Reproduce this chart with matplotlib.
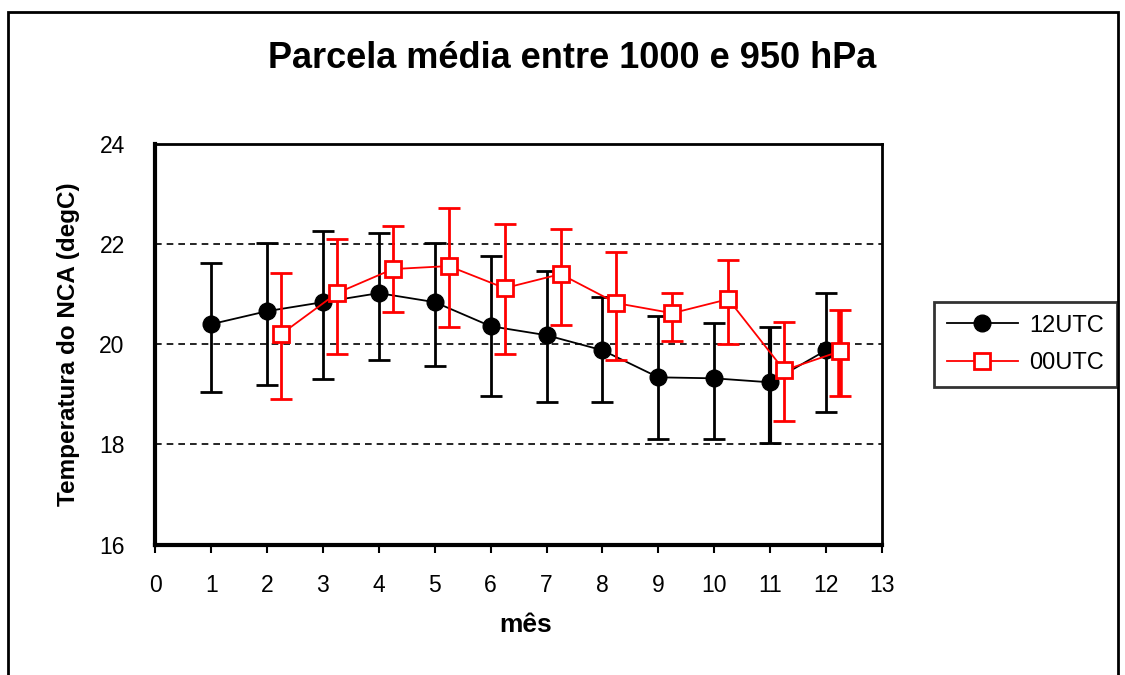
import matplotlib
matplotlib.use("Agg")
import matplotlib.pyplot as plt
import matplotlib.patches as patches
import numpy as np

plt.rcParams['font.family'] = ['Liberation Sans', 'DejaVu Sans']

# medias mensais e limites das barras de erro
meses = np.arange(1, 13)
t12 = [20.40, 20.66, 20.84, 21.02, 20.84, 20.36, 20.18, 19.88, 19.34, 19.32, 19.24, 19.88]
t12_sup = [21.62, 22.02, 22.26, 22.22, 22.02, 21.76, 21.46, 20.94, 20.56, 20.42, 20.34, 21.02]
t12_inf = [19.04, 19.18, 19.30, 19.68, 19.56, 18.96, 18.84, 18.84, 18.10, 18.10, 18.02, 18.64]

meses00 = np.arange(2, 13)
t00 = [20.20, 21.02, 21.50, 21.56, 21.12, 21.40, 20.82, 20.62, 20.90, 19.48, 19.86]
t00_sup = [21.42, 22.10, 22.36, 22.72, 22.40, 22.30, 21.84, 21.02, 21.68, 20.44, 20.68]
t00_inf = [18.90, 19.80, 20.64, 20.34, 19.80, 20.38, 19.68, 20.06, 20.00, 18.46, 18.96]

desloc = 0.25  # 00UTC deslocado para nao sobrepor

fig = plt.figure(figsize=(11.25, 6.75), dpi=100)
ax = fig.add_axes([0.138, 0.193, 0.646, 0.594])

t12 = np.array(t12)
t00 = np.array(t00)
err12 = [t12 - np.array(t12_inf), np.array(t12_sup) - t12]
err00 = [t00 - np.array(t00_inf), np.array(t00_sup) - t00]

eb12 = ax.errorbar(meses, t12, yerr=err12, fmt='none', ecolor='black',
                   elinewidth=2, capsize=8, capthick=2, zorder=3)
ax.plot(meses, t12, '-o', color='black', lw=1.3, ms=12, label='12UTC', zorder=4)

x00 = meses00 + desloc
eb00 = ax.errorbar(x00, t00, yerr=err00, fmt='none', ecolor='red',
                   elinewidth=2, capsize=8, capthick=2, zorder=5)
ax.plot(x00, t00, '-s', color='red', lw=1.3, ms=11, mfc='white', mew=2,
        label='00UTC', zorder=6)

# ultimas barras mais grossas
lw12 = [2] * 12
lw12[10] = 3
eb12[2][0].set_linewidths(lw12)
lw00 = [2] * 11
lw00[10] = 4
eb00[2][0].set_linewidths(lw00)

ax.set_xlim(0, 13)
ax.set_ylim(16, 24)
ax.set_xticks(range(0, 14))
ax.set_yticks([16, 18, 20, 22, 24])
for y in [18, 20, 22]:
    ax.axhline(y, color='black', ls=(0, (4, 3)), lw=1.2, zorder=1)

ax.tick_params(axis='both', labelsize=16.5, direction='out', length=6, width=1.5)
ax.tick_params(axis='x', pad=15)
ax.tick_params(axis='y', pad=22, length=0)
for s in ['left', 'bottom']:
    ax.spines[s].set_linewidth(3)
for s in ['top', 'right']:
    ax.spines[s].set_linewidth(2)

ax.set_xlabel('mês', fontsize=19, fontweight='bold')
ax.xaxis.label.set_va('center')
ax.xaxis.set_label_coords(0.509, -0.2)
ax.set_ylabel('Temperatura do NCA (degC)', fontsize=17.5, fontweight='bold')
ax.yaxis.label.set_va('center')
ax.yaxis.set_label_coords(-0.119, 0.5)
fig.text(0.509, 0.914, 'Parcela média entre 1000 e 950 hPa', ha='center', va='center',
         fontsize=26, fontweight='bold')

leg = fig.legend(loc='center left', bbox_to_anchor=(0.83, 0.49), fontsize=17,
                 frameon=True, fancybox=False, edgecolor='black', handlelength=3.0,
                 borderpad=0.55, labelspacing=0.65, handletextpad=0.5, borderaxespad=0)
leg.get_frame().set_linewidth(2)

# moldura externa
fig.patches.append(patches.Rectangle((0.007, -0.01), 0.987, 0.992, transform=fig.transFigure,
                                     fill=False, edgecolor='black', lw=2))

fig.savefig('out.png', dpi=100)
